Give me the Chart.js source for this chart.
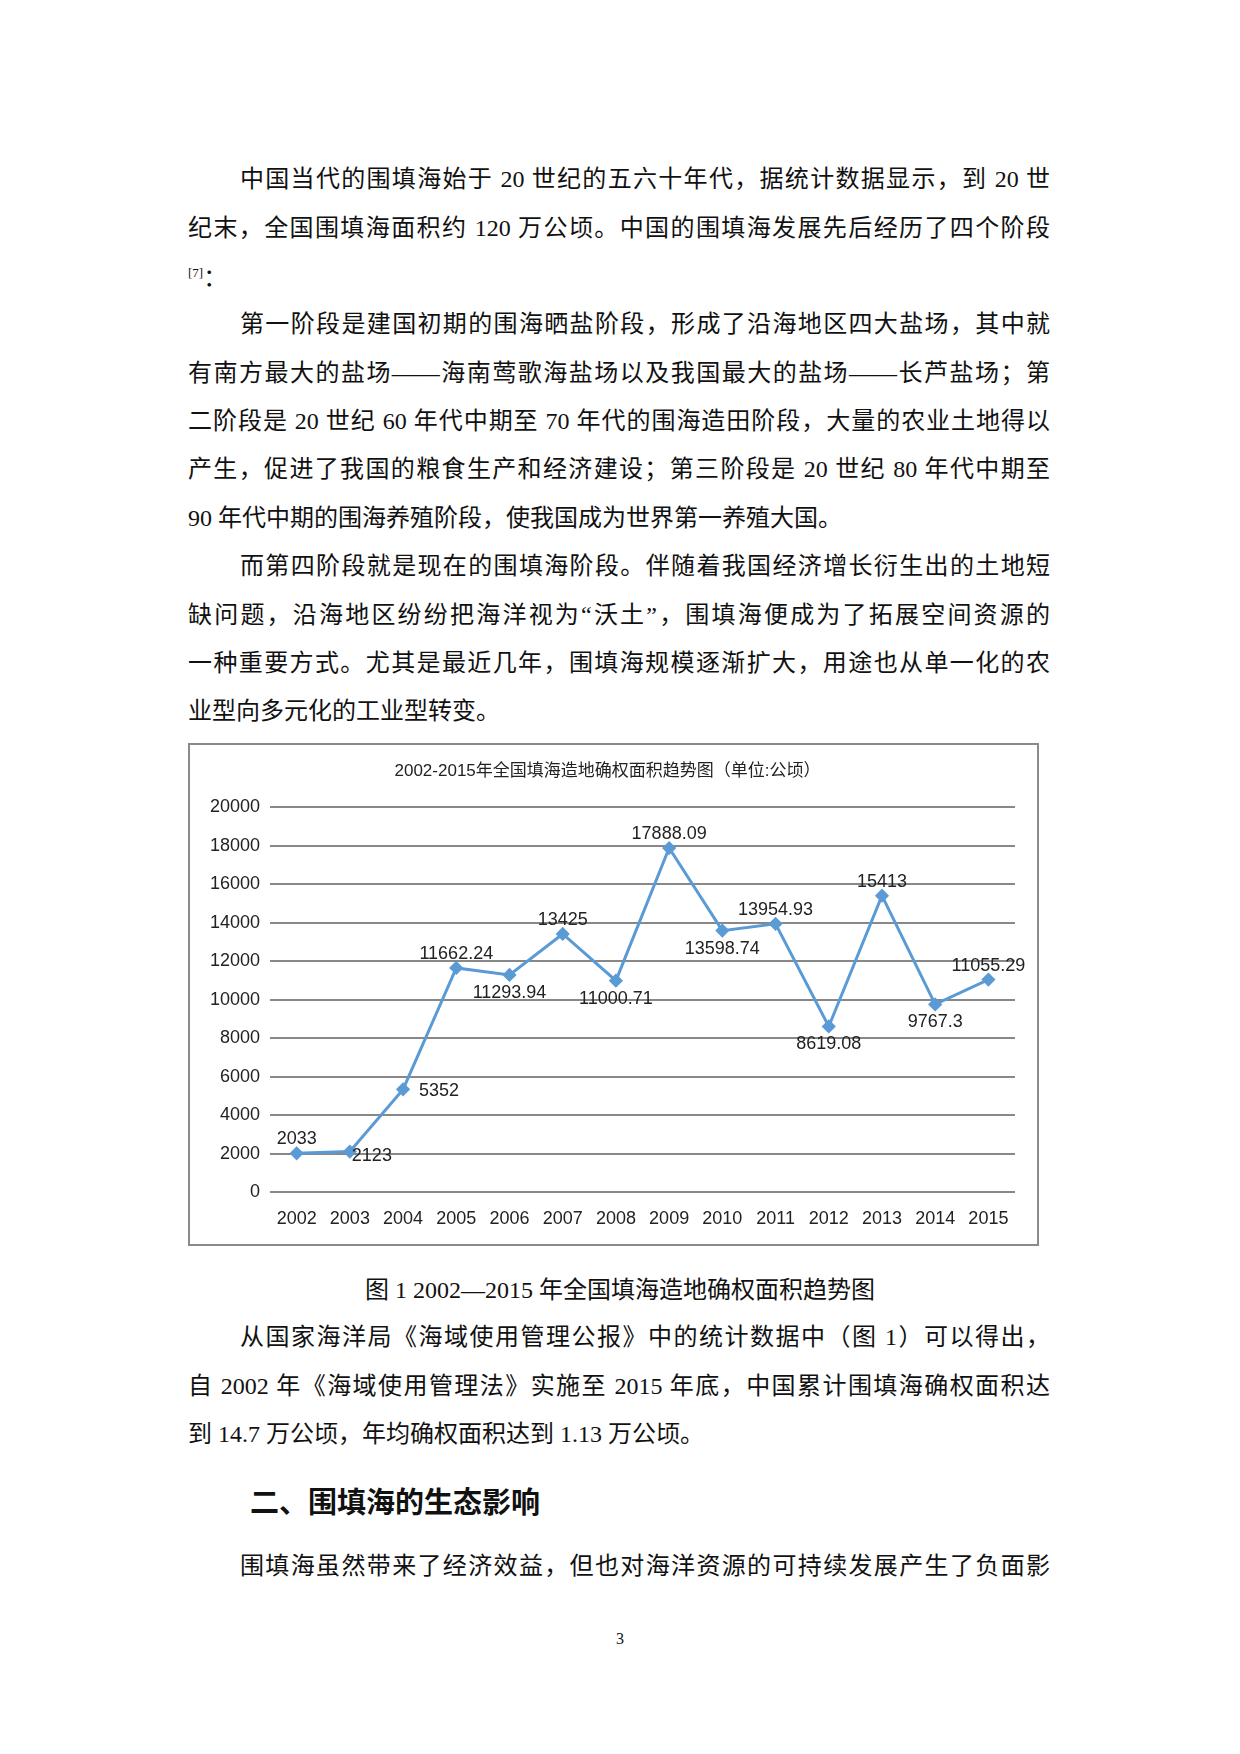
<!DOCTYPE html>
<html><head><meta charset="utf-8">
<script src="https://cdn.jsdelivr.net/npm/chart.js@4/dist/chart.umd.min.js"></script>
<style>
body{margin:0;width:1240px;height:1754px;background:#fff;position:relative;font-family:"Liberation Serif","Noto Sans CJK SC",serif;color:#111}
.l{position:absolute;left:188px;width:862px;font-size:24px;line-height:30px;text-align:justify;text-align-last:justify;white-space:nowrap}
.l.i{left:240px;width:810px}
.l.e{text-align-last:left}
#box{position:absolute;left:188px;top:743px;width:847px;height:499px;border:2px solid #8a8a8a}
</style></head><body>
<div class="l i" style="top:164px">中国当代的围填海始于 20 世纪的五六十年代，据统计数据显示，到 20 世</div>
<div class="l" style="top:213px">纪末，全国围填海面积约 120 万公顷。中国的围填海发展先后经历了四个阶段</div>
<div class="l e" style="top:258px"><sup style="font-size:13px">[7]</sup>：</div>
<div class="l i" style="top:309px">第一阶段是建国初期的围海晒盐阶段，形成了沿海地区四大盐场，其中就</div>
<div class="l" style="top:358px">有南方最大的盐场——海南莺歌海盐场以及我国最大的盐场——长芦盐场；第</div>
<div class="l" style="top:406px">二阶段是 20 世纪 60 年代中期至 70 年代的围海造田阶段，大量的农业土地得以</div>
<div class="l" style="top:454px">产生，促进了我国的粮食生产和经济建设；第三阶段是 20 世纪 80 年代中期至</div>
<div class="l e" style="top:503px">90 年代中期的围海养殖阶段，使我国成为世界第一养殖大国。</div>
<div class="l i" style="top:551px">而第四阶段就是现在的围填海阶段。伴随着我国经济增长衍生出的土地短</div>
<div class="l" style="top:600px">缺问题，沿海地区纷纷把海洋视为“沃土”，围填海便成为了拓展空间资源的</div>
<div class="l" style="top:648px">一种重要方式。尤其是最近几年，围填海规模逐渐扩大，用途也从单一化的农</div>
<div class="l e" style="top:696px">业型向多元化的工业型转变。</div>
<div id="box"><canvas id="c"></canvas></div>
<div class="l e" style="top:1275px;left:0;width:1240px;text-align:center;text-align-last:center">图 1  2002—2015 年全国填海造地确权面积趋势图</div>
<div class="l i" style="top:1322px">从国家海洋局《海域使用管理公报》中的统计数据中（图 1）可以得出，</div>
<div class="l" style="top:1371px">自 2002 年《海域使用管理法》实施至 2015 年底，中国累计围填海确权面积达</div>
<div class="l e" style="top:1419px">到 14.7 万公顷，年均确权面积达到 1.13 万公顷。</div>
<div class="l e" style="top:1483px;left:250px;font-size:29px;font-weight:bold;line-height:34px;font-family:'Noto Sans CJK SC'">二、围填海的生态影响</div>
<div class="l i" style="top:1551px">围填海虽然带来了经济效益，但也对海洋资源的可持续发展产生了负面影</div>
<div style="position:absolute;top:1630px;left:0;width:1240px;text-align:center;font-size:16px">3</div>
<script>
const years = ['2002','2003','2004','2005','2006','2007','2008','2009','2010','2011','2012','2013','2014','2015'];
const area = [2033, 2123, 5352, 11662.24, 11293.94, 13425, 11000.71, 17888.09, 13598.74, 13954.93, 8619.08, 15413, 9767.3, 11055.29];
const labelText = ['2033','2123','5352','11662.24','11293.94','13425','11000.71','17888.09','13598.74','13954.93','8619.08','15413','9767.3','11055.29'];
const labelPos = ['up','downright','right','up','down','up','down','up','down','up','down','up','down','up'];

const blue = '#5b9bd5';
const font = "'Liberation Sans Narrow','Liberation Sans',sans-serif";

// value labels next to each marker
const pointLabels = {
  id: 'pointLabels',
  afterDatasetsDraw(chart) {
    const ctx = chart.ctx;
    ctx.save();
    ctx.font = '18px ' + font;
    ctx.fillStyle = '#222';
    chart.getDatasetMeta(0).data.forEach((p, i) => {
      let x = p.x, y = p.y, pos = labelPos[i];
      ctx.textAlign = 'center';
      if (pos === 'up') y -= 14;
      else if (pos === 'down') y += 18;
      else if (pos === 'right') { ctx.textAlign = 'left'; x += 16; y += 2; }
      else if (pos === 'downright') { x += 22; y += 4; }
      ctx.textBaseline = 'middle';
      ctx.fillText(labelText[i], x, y);
    });
    ctx.restore();
  }
};

new Chart(document.getElementById('c'), {
  type: 'line',
  data: {
    labels: years,
    datasets: [{
      data: area,
      borderColor: blue,
      backgroundColor: blue,
      borderWidth: 3,
      pointStyle: 'rectRot',
      pointRadius: 5,
      tension: 0
    }]
  },
  options: {
    responsive: true,
    maintainAspectRatio: false,
    animation: false,
    layout: { padding: { top: 6, right: 22, bottom: 6, left: 10 } },
    plugins: {
      legend: { display: false },
      tooltip: { enabled: false },
      title: {
        display: true,
        text: '2002-2015年全国填海造地确权面积趋势图（单位:公顷）',
        color: '#222',
        font: { family: font + ",'Noto Sans CJK SC'", size: 17, weight: 'normal' },
        padding: { top: 10, bottom: 26 }
      }
    },
    scales: {
      x: {
        offset: true,
        grid: { display: false },
        border: { display: false },
        ticks: { color: '#222', font: { family: font, size: 18 }, padding: 8 }
      },
      y: {
        min: 0, max: 20000,
        ticks: { stepSize: 2000, color: '#222', font: { family: font, size: 18 }, padding: 10,
                 callback: v => String(v) },
        grid: { color: '#888', lineWidth: 2, drawTicks: false },
        border: { display: false }
      }
    }
  },
  plugins: [pointLabels]
});
</script>
</body></html>
